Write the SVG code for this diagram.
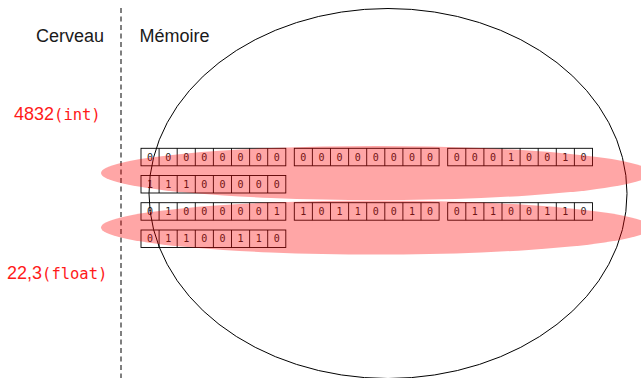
<svg xmlns="http://www.w3.org/2000/svg" xmlns:xlink="http://www.w3.org/1999/xlink" width="641" height="378" viewBox="0 0 641 378">
<style>
.lbl{font-family:"Liberation Sans","DejaVu Sans",sans-serif;font-size:18px;fill:#1a1a1a}
.red{font-family:"Liberation Sans","DejaVu Sans",sans-serif;font-size:18px;fill:#ff1a1a}
.mono{font-family:"DejaVu Sans Mono","Liberation Mono",monospace;font-size:15.5px}
.bit{font-family:"DejaVu Sans Mono","Liberation Mono",monospace;font-size:10px;fill:#222;text-anchor:middle}
.cell{fill:none;stroke:#000;stroke-width:0.9}
.hl{fill:#ff0000;fill-opacity:0.35;stroke:none}
</style>
<defs>
<g id="grid">
<rect class="cell" x="0" y="0" width="144.8" height="17.5"/>
<path class="cell" d="M18.1 0V17.5M36.2 0V17.5M54.3 0V17.5M72.4 0V17.5M90.5 0V17.5M108.6 0V17.5M126.7 0V17.5"/>
</g>
</defs>
<rect width="641" height="378" fill="#fff"/>
<g id="divider"><line x1="121" y1="8" x2="121" y2="378" stroke="#555" stroke-width="1.5" stroke-dasharray="5,3.5"/></g>
<g id="cerveau"><text class="lbl" x="104" y="42" text-anchor="end">Cerveau</text></g>
<g id="memoire"><text class="lbl" x="139.5" y="42">Mémoire</text></g>
<g id="int-label"><text class="red" x="14" y="120">4832<tspan class="mono">(int)</tspan></text></g>
<g id="float-label"><text class="red" x="7" y="278.5">22,3<tspan class="mono">(float)</tspan></text></g>
<g id="byte1" transform="translate(141,148.3)"><use xlink:href="#grid"/><text class="bit" y="12.3"><tspan x="9.05">0</tspan><tspan x="27.15">0</tspan><tspan x="45.25">0</tspan><tspan x="63.35">0</tspan><tspan x="81.45">0</tspan><tspan x="99.55">0</tspan><tspan x="117.65">0</tspan><tspan x="135.75">0</tspan></text></g>
<g id="byte2" transform="translate(294.3,148.3)"><use xlink:href="#grid"/><text class="bit" y="12.3"><tspan x="9.05">0</tspan><tspan x="27.15">0</tspan><tspan x="45.25">0</tspan><tspan x="63.35">0</tspan><tspan x="81.45">0</tspan><tspan x="99.55">0</tspan><tspan x="117.65">0</tspan><tspan x="135.75">0</tspan></text></g>
<g id="byte3" transform="translate(447.7,148.3)"><use xlink:href="#grid"/><text class="bit" y="12.3"><tspan x="9.05">0</tspan><tspan x="27.15">0</tspan><tspan x="45.25">0</tspan><tspan x="63.35">1</tspan><tspan x="81.45">0</tspan><tspan x="99.55">0</tspan><tspan x="117.65">1</tspan><tspan x="135.75">0</tspan></text></g>
<g id="byte4" transform="translate(141,175.5)"><use xlink:href="#grid"/><text class="bit" y="12.3"><tspan x="9.05">1</tspan><tspan x="27.15">1</tspan><tspan x="45.25">1</tspan><tspan x="63.35">0</tspan><tspan x="81.45">0</tspan><tspan x="99.55">0</tspan><tspan x="117.65">0</tspan><tspan x="135.75">0</tspan></text></g>
<g id="byte5" transform="translate(141,202.7)"><use xlink:href="#grid"/><text class="bit" y="12.3"><tspan x="9.05">0</tspan><tspan x="27.15">1</tspan><tspan x="45.25">0</tspan><tspan x="63.35">0</tspan><tspan x="81.45">0</tspan><tspan x="99.55">0</tspan><tspan x="117.65">0</tspan><tspan x="135.75">1</tspan></text></g>
<g id="byte6" transform="translate(294.3,202.7)"><use xlink:href="#grid"/><text class="bit" y="12.3"><tspan x="9.05">1</tspan><tspan x="27.15">0</tspan><tspan x="45.25">1</tspan><tspan x="63.35">1</tspan><tspan x="81.45">0</tspan><tspan x="99.55">0</tspan><tspan x="117.65">1</tspan><tspan x="135.75">0</tspan></text></g>
<g id="byte7" transform="translate(447.7,202.7)"><use xlink:href="#grid"/><text class="bit" y="12.3"><tspan x="9.05">0</tspan><tspan x="27.15">1</tspan><tspan x="45.25">1</tspan><tspan x="63.35">0</tspan><tspan x="81.45">0</tspan><tspan x="99.55">1</tspan><tspan x="117.65">1</tspan><tspan x="135.75">0</tspan></text></g>
<g id="byte8" transform="translate(141,230)"><use xlink:href="#grid"/><text class="bit" y="12.3"><tspan x="9.05">0</tspan><tspan x="27.15">1</tspan><tspan x="45.25">1</tspan><tspan x="63.35">0</tspan><tspan x="81.45">0</tspan><tspan x="99.55">1</tspan><tspan x="117.65">1</tspan><tspan x="135.75">0</tspan></text></g>
<g id="memory-ellipse"><ellipse cx="388" cy="193.5" rx="239" ry="185" fill="none" stroke="#000" stroke-width="1"/></g>
<g id="int-highlight"><ellipse class="hl" cx="376" cy="173" rx="275" ry="27"/></g>
<g id="float-highlight"><ellipse class="hl" cx="376" cy="227.5" rx="275" ry="27"/></g>
</svg>
